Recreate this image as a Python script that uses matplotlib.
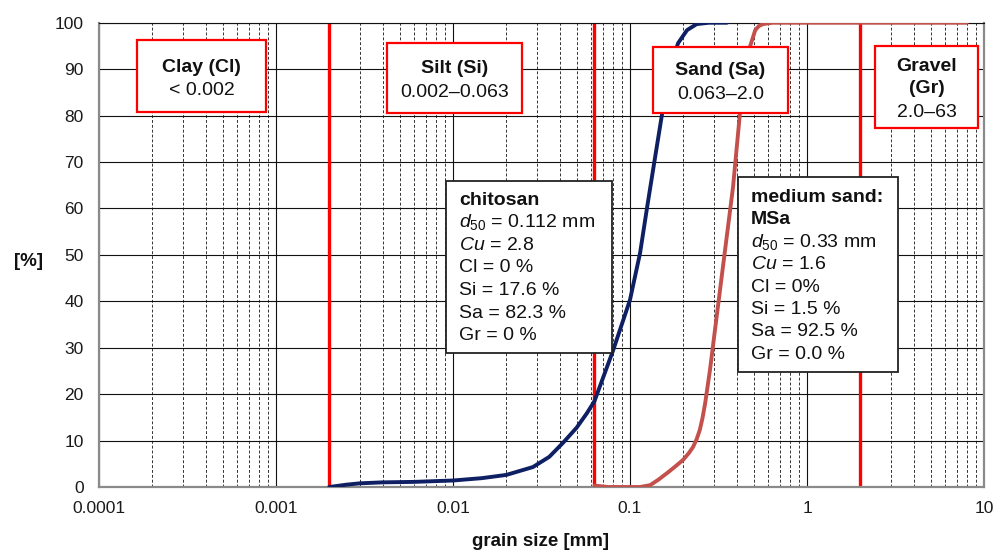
import matplotlib
matplotlib.use("Agg")
import matplotlib.pyplot as plt
from matplotlib.patches import Rectangle
from matplotlib.ticker import LogLocator, FixedLocator, NullFormatter

plt.rcParams['font.family'] = ['Liberation Sans', 'DejaVu Sans']
plt.rcParams['mathtext.fontset'] = 'custom'
plt.rcParams['mathtext.rm'] = 'Liberation Sans'
plt.rcParams['mathtext.it'] = 'Liberation Sans:italic'
plt.rcParams['mathtext.bf'] = 'Liberation Sans:bold'

# ---------------- data ----------------
chitosan_x = [0.002, 0.0025, 0.003, 0.004, 0.006, 0.01, 0.0145, 0.02, 0.0283, 0.035,
              0.0418, 0.05, 0.0571, 0.063, 0.0804, 0.1, 0.114, 0.125, 0.135, 0.152,
              0.168, 0.187, 0.21, 0.238, 0.28, 0.353]
chitosan_y = [0, 0.5, 0.8, 1.0, 1.1, 1.4, 1.9, 2.6, 4.3, 6.5,
              9.5, 12.8, 15.9, 18.5, 29.5, 40.3, 50.4, 60.3, 68.3, 80.5,
              90.5, 95.6, 98.4, 99.7, 100, 100]

sand_x = [0.063, 0.075, 0.114, 0.13, 0.145, 0.162, 0.18, 0.199, 0.215, 0.227, 0.238,
          0.248, 0.257, 0.266, 0.283, 0.302, 0.335, 0.382, 0.418, 0.458, 0.476,
          0.51, 0.535, 0.564, 0.64, 8.0]
sand_y = [0.3, 0, 0, 0.4, 1.6, 3.0, 4.4, 5.8, 7.3, 8.6, 10.3,
          12.3, 14.9, 18.1, 25.2, 33.8, 47.4, 64.6, 80.5, 90.5, 94.8,
          98.4, 99.3, 99.7, 100, 100]

class_bounds = [0.002, 0.063, 2.0]

x_ticks = [0.0001, 0.001, 0.01, 0.1, 1, 10]
x_tick_labels = ["0.0001", "0.001", "0.01", "0.1", "1", "10"]
y_ticks = [0, 10, 20, 30, 40, 50, 60, 70, 80, 90, 100]

class_labels = [("Clay (Cl)", "< 0.002"),
                ("Silt (Si)", "0.002\u20130.063"),
                ("Sand (Sa)", "0.063\u20132.0"),
                ("Gravel\n(Gr)", "2.0\u201363")]

chitosan_title = ["chitosan"]
chitosan_lines = [r"$\mathit{d}_{\mathrm{50}}$ = 0.112 mm", r"$\mathit{Cu}$ = 2.8",
                  "Cl = 0 %", "Si = 17.6 %", "Sa = 82.3 %", "Gr = 0 %"]
sand_title = ["medium sand:", "MSa"]
sand_lines = [r"$\mathit{d}_{\mathrm{50}}$ = 0.33 mm", r"$\mathit{Cu}$ = 1.6",
              "Cl = 0%", "Si = 1.5 %", "Sa = 92.5 %", "Gr = 0.0 %"]

# ---------------- figure ----------------
W, H = 995, 552
fig = plt.figure(figsize=(W / 100, H / 100), dpi=100)


def fx(x):
    return x / W


def fy(y):
    return 1 - y / H


ax = fig.add_axes([fx(99), fy(487), fx(984) - fx(99), fy(22.7) - fy(487)])
ax.set_xscale('log')
ax.set_xlim(1e-4, 10)
ax.set_ylim(0, 100)

ax.xaxis.set_major_locator(FixedLocator(x_ticks))
ax.set_xticklabels(x_tick_labels)
ax.xaxis.set_minor_locator(LogLocator(base=10, subs=[2, 3, 4, 5, 6, 7, 8, 9], numticks=20))
ax.xaxis.set_minor_formatter(NullFormatter())
ax.set_yticks(y_ticks)

ax.tick_params(axis='both', which='both', length=0, labelsize=12.5, colors='#1a1a1a')
ax.tick_params(axis='x', pad=10)
ax.tick_params(axis='y', pad=11)

ax.grid(which='major', axis='both', color='#111111', lw=0.8, zorder=0)
ax.grid(which='minor', axis='x', color='#333333', lw=0.7, linestyle=(0, (3, 2)), zorder=0)
ax.set_axisbelow(True)

for s in ['left', 'bottom', 'right']:
    ax.spines[s].set_color('#8a8a8a')
    ax.spines[s].set_linewidth(1.6)
ax.spines['top'].set_color('#111111')
ax.spines['top'].set_linewidth(0.8)

for b in class_bounds:
    ax.axvline(b, color='#ff0000', lw=2.4, zorder=2)

ax.plot(chitosan_x, chitosan_y, color='#0e1f63', lw=2.8, zorder=3,
        solid_capstyle='round', solid_joinstyle='round')
ax.plot(sand_x, sand_y, color='#c4504c', lw=2.8, zorder=3,
        solid_capstyle='round', solid_joinstyle='round')

# ---------------- boxes ----------------
def box(x0, y0, x1, y1, ec, lw):
    r = Rectangle((fx(x0), fy(y1)), fx(x1) - fx(x0), fy(y0) - fy(y1),
                  transform=fig.transFigure, facecolor='white', edgecolor=ec,
                  lw=lw, zorder=5)
    fig.add_artist(r)


FS = 14
# class boxes
class_boxes = [(137, 40, 266, 112), (387, 43, 522, 113), (653, 47, 788, 113), (875, 46, 978, 128)]
class_baselines = [(72, 95), (73, 97), (75, 99), (71, 117)]
for (x0, y0, x1, y1), (bl1, bl2), (t1, t2) in zip(class_boxes, class_baselines, class_labels):
    box(x0, y0, x1, y1, '#ff0000', 1.6)
    cx = (x0 + x1) / 2
    lines = t1.split("\n")
    for i, ln in enumerate(lines):
        fig.text(fx(cx), fy(bl1 + 22 * i), ln, ha='center', va='baseline',
                 fontsize=FS, fontweight='bold', color='#111111', zorder=6)
    fig.text(fx(cx), fy(bl2), t2, ha='center', va='baseline',
             fontsize=FS, color='#111111', zorder=6)

# data boxes
box(446, 181, 612, 353, '#222222', 1.3)
y = 205
for t in chitosan_title:
    fig.text(fx(459), fy(y), t, ha='left', va='baseline', fontsize=FS,
             fontweight='bold', color='#111111', zorder=6)
    y += 22.5
for t in chitosan_lines:
    fig.text(fx(459), fy(y), t, ha='left', va='baseline', fontsize=FS,
             color='#111111', zorder=6)
    y += 22.5

box(738, 177, 898, 372, '#222222', 1.3)
y = 202
for t in sand_title:
    fig.text(fx(751), fy(y), t, ha='left', va='baseline', fontsize=FS,
             fontweight='bold', color='#111111', zorder=6)
    y += 22.4
for t in sand_lines:
    fig.text(fx(751), fy(y), t, ha='left', va='baseline', fontsize=FS,
             color='#111111', zorder=6)
    y += 22.4

# axis labels
fig.text(fx(29), fy(262), "[%]", ha='center', va='center', fontsize=13.5,
         fontweight='bold', color='#111111')
fig.text(fx(541), fy(541), "grain size [mm]", ha='center', va='center', fontsize=13.5,
         fontweight='bold', color='#111111')

fig.savefig("out.png", dpi=100)
